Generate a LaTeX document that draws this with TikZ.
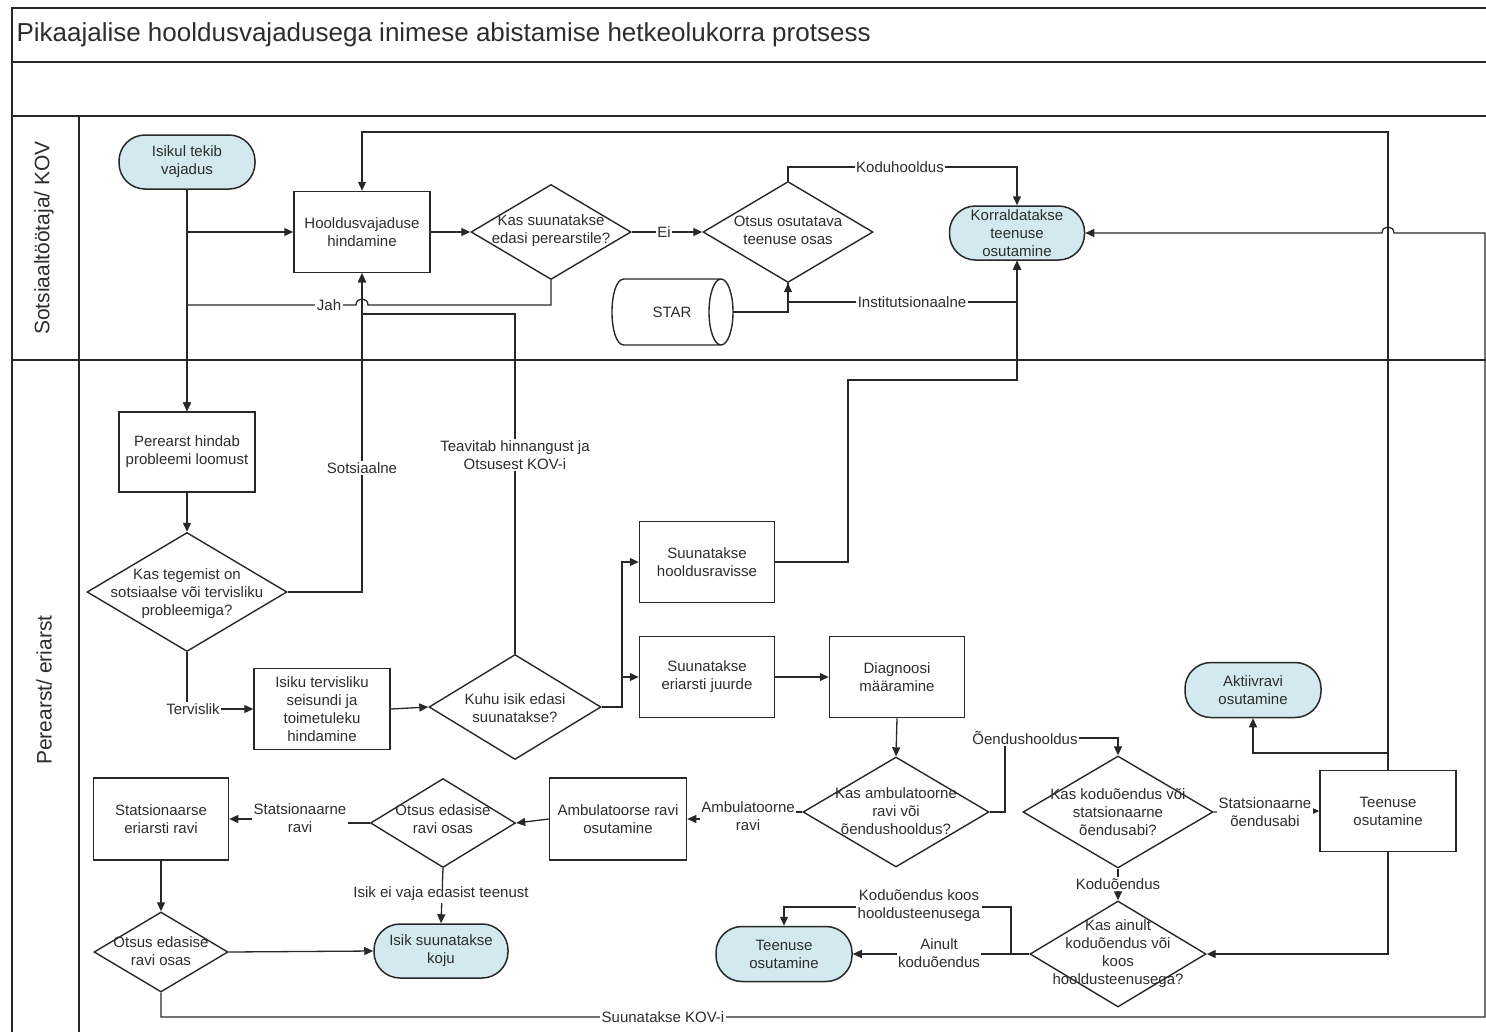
\documentclass[tikz,border=0pt]{standalone}
\usepackage{fontspec}
\setmainfont{Liberation Sans}
\usetikzlibrary{shapes.geometric,arrows.meta}
\definecolor{termblue}{RGB}{210,233,239}
\definecolor{ink}{RGB}{40,40,40}
\definecolor{txt}{RGB}{45,45,45}
\begin{document}
\begin{tikzpicture}[x=1pt,y=-1pt,
  every node/.style={font=\fontsize{15}{18}\selectfont, align=center, text=txt},
  proc/.style={draw=ink, line width=1.5pt, inner sep=0pt},
  term/.style={draw=ink, line width=1.5pt, fill=termblue, rounded corners=26pt, inner sep=0pt},
  dec/.style={diamond, draw=ink, line width=1.4pt, inner sep=0pt},
  conn/.style={draw=ink, line width=1.3pt, -{Triangle[length=9pt,width=8pt]}},
  plain/.style={draw=ink, line width=1.3pt},
  lbl/.style={fill=white, inner sep=1.5pt},
  frame/.style={draw=ink, line width=2pt},
]
\useasboundingbox (0,0) rectangle (1486,1031);
\clip (0,0) rectangle (1486,1031);

% ---- frame ----
\draw[frame] (12,1045) -- (12,8) -- (1500,8);
\draw[frame] (12,62) -- (1500,62);
\draw[frame] (12,116) -- (1500,116);
\draw[frame] (12,360) -- (1500,360);
\draw[frame] (79,116) -- (79,1045);

\node[anchor=west, font=\fontsize{26}{30}\selectfont] (title) at (13,35) {Pikaajalise hooldusvajadusega inimese abistamise hetkeolukorra protsess};
\node[rotate=90, font=\fontsize{21}{25}\selectfont] (lane1) at (44,238) {Sotsiaaltöötaja/ KOV};
\node[rotate=90, font=\fontsize{21}{25}\selectfont] (lane2) at (44,690) {Perearst/ eriarst};

% ---- nodes ----
\node[term, minimum width=136, minimum height=54] (start) at (187,162) {Isikul tekib\\vajadus};
\node[proc, minimum width=136, minimum height=81] (hood) at (362,232) {Hooldusvajaduse\\hindamine};
\node[dec, minimum width=160, minimum height=95] (q1) at (551,232) {};
\node (q1t) at (551,231) {Kas suunatakse\\edasi perearstile?};
\node[dec, minimum width=170, minimum height=101] (q2) at (788,232) {};
\node (q2t) at (788,230) {Otsus osutatava\\teenuse osas};
\node[term, minimum width=135, minimum height=54] (korr) at (1017,233) {Korraldatakse\\teenuse\\osutamine};
\node[minimum width=121, minimum height=66, inner sep=0pt] (star) at (672,312) {STAR};
\draw[draw=ink, line width=1.4pt] (624,279) -- (721,279) (721,345) -- (624,345)
  (624,279) .. controls (608,279) and (608,345) .. (624,345)
  (721,312) ellipse [x radius=12, y radius=33];

\node[proc, minimum width=136, minimum height=80] (pere) at (187,452) {Perearst hindab\\probleemi loomust};
\node[dec, minimum width=200, minimum height=119] (q3) at (187,592) {};
\node (q3t) at (187,594) {Kas tegemist on\\sotsiaalse või tervisliku\\probleemiga?};
\node[proc, minimum width=136, minimum height=81] (isiku) at (322,709) {Isiku tervisliku\\seisundi ja\\toimetuleku\\hindamine};
\node[dec, minimum width=172, minimum height=105] (q4) at (515,707) {};
\node (q4t) at (515,708) {Kuhu isik edasi\\suunatakse?};
\node[proc, minimum width=135, minimum height=81] (hoolrav) at (707,562) {Suunatakse\\hooldusravisse};
\node[proc, minimum width=135, minimum height=81] (eriarst) at (707,677) {Suunatakse\\eriarsti juurde};
\node[proc, minimum width=135, minimum height=81] (diag) at (897,677) {Diagnoosi\\määramine};
\node[dec, minimum width=186, minimum height=110] (q5) at (896,812) {};
\node (q5t) at (896,811) {Kas ambulatoorne\\ravi või\\õendushooldus?};
\node[proc, minimum width=137, minimum height=82] (ambul) at (618,819) {Ambulatoorse ravi\\osutamine};
\node[dec, minimum width=145, minimum height=89] (q6) at (443,823) {};
\node (q6t) at (443,819) {Otsus edasise\\ravi osas};
\node[proc, minimum width=135, minimum height=82] (stats) at (161,819) {Statsionaarse\\eriarsti ravi};
\node[dec, minimum width=134, minimum height=80] (q7) at (161,952) {};
\node (q7t) at (161,951) {Otsus edasise\\ravi osas};
\node[term, minimum width=134, minimum height=54] (koju) at (441,951) {Isik suunatakse\\koju};
\node[dec, minimum width=190, minimum height=112] (q8) at (1118,812) {};
\node (q8t) at (1118,812) {Kas koduõendus või\\statsionaarne\\õendusabi?};
\node[term, minimum width=136, minimum height=55] (aktiiv) at (1253,690) {Aktiivravi\\osutamine};
\node[proc, minimum width=136, minimum height=81] (teenR) at (1388,811) {Teenuse\\osutamine};
\node[dec, minimum width=176, minimum height=106] (q9) at (1118,954) {};
\node (q9t) at (1118,954) {Kas ainult\\koduõendus või\\koos\\hooldusteenusega?};
\node[term, minimum width=136, minimum height=55] (teenT) at (784,954) {Teenuse\\osutamine};

% ---- helper coordinates ----
\coordinate (cTeav) at (515,314);
\coordinate (cTop) at (1388,132);
\coordinate (cAkt) at (1388,753);
\coordinate (cLA) at (748,816);
\coordinate (cLS) at (300,818);

% ---- connectors ----
\draw[conn] (start.south) |- (hood.west);
\draw[conn] (start.south) -- (pere.north);
\draw[conn] (hood.east) -- (q1.west);
\draw[conn] (q1.east) -- (q2.west);
\draw[conn] (q1.south) -- (551,305) -- (368,305) .. controls (368,297) and (356,297) .. (356,305) -- (187,305) -- (pere.north);
\draw[conn] (q2.north) -- (788,167) -| (korr.north);
\draw[conn] (star.east) -| (q2.south);
\draw[conn] (q2.south) -- (788,302) -| (korr.south);
\draw[conn] (q3.east) -| (hood.south);
\draw[conn] (q4.north) -- (cTeav) -| (hood.south);
\draw[conn] (teenR.north) -- (cTop) -| (hood.north);
\draw[conn] (teenR.north) -- (cAkt) -| (aktiiv.south);
\draw[conn] (q7.south) -- (161,1017) -- (1485,1017) -- (1485,233) -- (1394,233) .. controls (1394,225) and (1382,225) .. (1382,233) -- (korr.east);
\draw[conn] (hoolrav.east) -- (848,562) -- (848,380) -| (korr.south);
\draw[conn] (pere.south) -- (q3.north);
\draw[conn] (q3.south) |- (isiku.west);
\draw[conn] (isiku.east) -- (q4.west);
\draw[conn] (q4.east) -- (622,707) |- (hoolrav.west);
\draw[conn] (q4.east) -- (622,707) |- (eriarst.west);
\draw[conn] (eriarst.east) -- (diag.west);
\draw[conn] (diag.south) -- (q5.north);
\draw[conn] (q5.west) -| (cLA) |- (ambul.east);
\draw[conn] (q5.east) -- (1005,812) -- (1005,738) -| (q8.north);
\draw[conn] (q8.east) -- (teenR.west);
\draw[conn] (q8.south) -- (q9.north);
\draw[conn] (teenR.south) |- (q9.east);
\draw[conn] (q9.west) -- (teenT.east);
\draw[conn] (q9.west) -- (1011,954) -- (1011,907) -| (teenT.north);
\draw[conn] (ambul.west) -- (q6.east);
\draw[conn] (q6.west) -| (cLS) |- (stats.east);
\draw[conn] (q6.south) -- (koju.north);
\draw[conn] (stats.south) -- (q7.north);
\draw[conn] (q7.east) -- (koju.west);

% ---- connector labels ----
\node[lbl] (lJah) at (329,305) {Jah};
\node[lbl] (lEi) at (664,232) {Ei};
\node[lbl] (lKodu) at (900,167) {Koduhooldus};
\node[lbl] (lInst) at (912,302) {Institutsionaalne};
\node[lbl] (lSots) at (362,468) {Sotsiaalne};
\node[lbl] (lTeav) at (515,455) {Teavitab hinnangust ja\\Otsusest KOV-i};
\node[lbl] (lTerv) at (193,709) {Tervislik};
\node[lbl] (lAmb) at (cLA) {Ambulatoorne\\ravi};
\node[lbl] (lOend) at (1025,738) {Õendushooldus};
\node[lbl] (lStOe) at (1265,812) {Statsionaarne\\õendusabi};
\node[lbl] (lKodO) at (1118,884) {Koduõendus};
\node[lbl] (lKoos) at (919,906) {Koduõendus koos\\hooldusteenusega};
\node[lbl] (lAin) at (939,953) {Ainult\\koduõendus};
\node[lbl] (lStR) at (cLS) {Statsionaarne\\ravi};
\node[lbl] (lIsik) at (441,894) {Isik ei vaja edasist teenust};
\node[lbl] (lKOV) at (663,1017) {Suunatakse KOV-i};
\end{tikzpicture}
\end{document}
